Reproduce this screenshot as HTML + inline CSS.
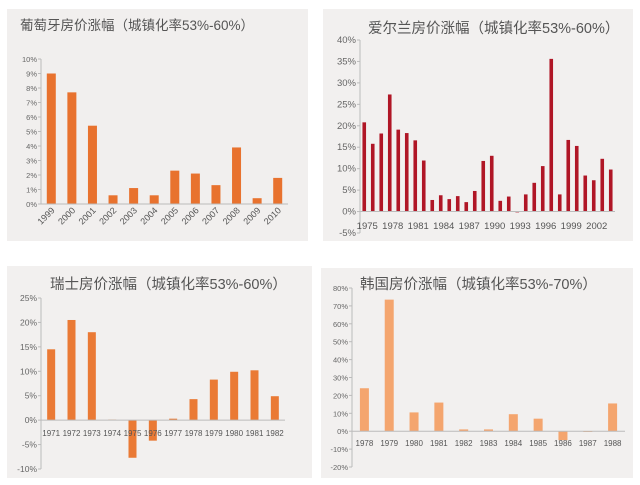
<!DOCTYPE html>
<html><head><meta charset="utf-8">
<style>
html,body{margin:0;padding:0;background:#fff;}
svg{display:block;font-family:"Liberation Sans","Noto Sans CJK SC",sans-serif;}
</style></head>
<body>
<svg id="s" width="640" height="485" viewBox="0 0 640 485" xmlns="http://www.w3.org/2000/svg">
<rect x="7" y="9" width="301" height="232" fill="#f1efee"/>
<rect x="323" y="9" width="310" height="232" fill="#f2f0ef"/>
<rect x="7" y="266" width="305" height="212" fill="#f2f0ef"/>
<rect x="321" y="268" width="312" height="210" fill="#f2f0ef"/>
<text x="20" y="30" font-size="13.5" fill="#555">葡萄牙房价涨幅（城镇化率53%-60%）</text>
<text x="368" y="33" font-size="14.5" fill="#555">爱尔兰房价涨幅（城镇化率53%-60%）</text>
<text x="50" y="289" font-size="14.5" fill="#555">瑞士房价涨幅（城镇化率53%-60%）</text>
<text x="360" y="289" font-size="14.5" fill="#555">韩国房价涨幅（城镇化率53%-70%）</text>
</svg>
<script>
const ptCats=["1999","2000","2001","2002","2003","2004","2005","2006","2007","2008","2009","2010"];
const ptVals=[9.0,7.7,5.4,0.6,1.1,0.6,2.3,2.1,1.3,3.9,0.4,1.8];
const ptTicks=[0,1,2,3,4,5,6,7,8,9,10];
const ieCats=["1975","1976","1977","1978","1979","1980","1981","1982","1983","1984","1985","1986","1987","1988","1989","1990","1991","1992","1993","1994","1995","1996","1997","1998","1999","2000","2001","2002","2003","2004"];
const ieVals=[20.8,15.8,18.2,27.3,19.1,18.3,16.6,11.9,2.7,3.8,2.9,3.6,2.2,4.8,11.8,13.0,2.5,3.5,-0.1,4.0,6.7,10.6,35.6,4.0,16.7,15.3,8.4,7.3,12.3,9.8];
const ieTicks=[-5,0,5,10,15,20,25,30,35,40];
const ieShown=["1975","1978","1981","1984","1987","1990","1993","1996","1999","2002"];
const chCats=["1971","1972","1973","1974","1975","1976","1977","1978","1979","1980","1981","1982"];
const chVals=[14.5,20.5,18.0,0.1,-7.7,-4.2,0.3,4.3,8.3,9.9,10.2,4.9];
const chTicks=[-10,-5,0,5,10,15,20,25];
const krCats=["1978","1979","1980","1981","1982","1983","1984","1985","1986","1987","1988"];
const krVals=[24,73.5,10.5,16,1,1,9.5,7,-5,0,15.5];
const krTicks=[-20,-10,0,10,20,30,40,50,60,70,80];

const svg=document.getElementById('s');
const NS="http://www.w3.org/2000/svg";
function mk(tag,attrs){const e=document.createElementNS(NS,tag);for(const k in attrs)e.setAttribute(k,attrs[k]);svg.appendChild(e);return e;}

function chart(o){
  const y=v=>o.y0+(v-o.vmin)*(o.y1-o.y0)/(o.vmax-o.vmin);
  const step=(o.x1-o.x0)/o.cats.length;
  const ax=mk('line',{x1:o.x0,y1:y(o.vmin),x2:o.x0,y2:y(o.vmax),stroke:'#bbb','stroke-width':1});
  
  
  o.ticks.forEach(t=>{
    const tl=mk('text',{x:o.x0-4,y:y(t)+3,'font-size':o.tfs,'text-anchor':'end',fill:'#666'});
    tl.textContent=t+'%';
    
    
    mk('line',{x1:o.x0-3,y1:y(t),x2:o.x0,y2:y(t),stroke:'#bbb'});
  });
  o.vals.forEach((v,i)=>{
    const cx=o.x0+step*(i+0.5);
    const top=Math.min(y(v),y(0)),h=Math.max(Math.abs(y(v)-y(0)),0.8);
    const b=mk('rect',{x:cx-o.bw/2,y:top,width:o.bw,height:h,fill:o.color});
    
    
  });
  const xa=mk('line',{x1:o.x0,y1:y(0),x2:o.x1,y2:y(0),stroke:'#bbb','stroke-width':1});
  
  
  o.cats.forEach((c,i)=>{
    if(o.shown&&o.shown.indexOf(c)<0)return;
    const cx=o.x0+step*(i+0.5);
    let t;
    if(o.rot){
      t=mk('text',{x:cx+4,y:o.ly,'font-size':o.lfs,'text-anchor':'end',fill:'#555',transform:'rotate(-45 '+(cx+4)+' '+o.ly+')'});
    }else{
      t=mk('text',{x:cx+(o.lshift||0),y:o.ly,'font-size':o.lfs,'text-anchor':'middle',fill:'#555'});
    }
    t.textContent=c;
    
    
  });
}
chart({name:'portugal',cats:ptCats,vals:ptVals,ticks:ptTicks,vmin:0,vmax:10,y0:204,y1:59,x0:41,x1:288,bw:9,color:'#e8722e',tfs:7.5,lfs:9,ly:211,rot:true});
chart({name:'ireland',cats:ieCats,vals:ieVals,ticks:ieTicks,shown:ieShown,vmin:-5,vmax:40,y0:233,y1:40,x0:360,x1:615,bw:3.6,color:'#b01626',tfs:9.5,lfs:9.5,ly:229,lshift:3});
chart({name:'switzerland',cats:chCats,vals:chVals,ticks:chTicks,vmin:-10,vmax:25,y0:469,y1:298,x0:41,x1:285,bw:8,color:'#ea7a35',tfs:8.5,lfs:8,ly:436});
chart({name:'korea',cats:krCats,vals:krVals,ticks:krTicks,vmin:-20,vmax:80,y0:467,y1:288,x0:352,x1:625,bw:9,color:'#f4a56e',tfs:7.5,lfs:8,ly:446});
</script>
</body></html>
